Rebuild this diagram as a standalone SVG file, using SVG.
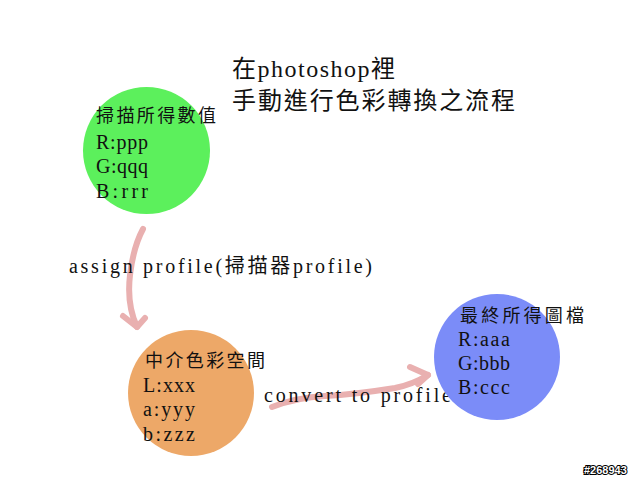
<svg xmlns="http://www.w3.org/2000/svg" width="640" height="480" viewBox="0 0 640 480">
<defs>
<style>
text{font-family:"Liberation Serif","Noto Sans CJK TC",serif;fill:#111;}
.t{font-size:24px;}
.n{font-size:20px;}
.k{font-size:18px;}
.c{stroke:#e9b0b0;stroke-width:6;fill:none;stroke-linecap:round;stroke-linejoin:round;}
</style>
</defs>
<rect width="640" height="480" fill="#ffffff"/>
<g id="title">
<text class="t" x="232" y="77" textLength="163">在photoshop裡</text>
<text class="t" x="232" y="109" textLength="283">手動進行色彩轉換之流程</text>
</g>
<g id="connectors">
<path class="c" d="M143,229 C136,242 132,258 130,275 C128,292 129,310 137,327"/>
<path class="c" d="M123,316 L137,327 L145,318"/>
<path class="c" d="M272,407 C290,400 305,397 325,396 C345,395 370,392 395,388 C410,385 420,380 428,375"/>
<path class="c" d="M410,367 L428,375 L418,384"/>
<text class="n" x="69" y="273" textLength="303">assign profile(掃描器profile)</text>
<text class="n" x="264" y="402" textLength="187">convert to profile</text>
</g>
<g id="scan">
<circle cx="146.5" cy="150.5" r="63.5" fill="#5cf05c"/>
<text class="k" x="96" y="122" textLength="120">掃描所得數值</text>
<text class="n" x="96" y="149" textLength="52">R:ppp</text>
<text class="n" x="96" y="173" textLength="52">G:qqq</text>
<text class="n" x="96" y="198" textLength="52">B:rrr</text>
</g>
<g id="lab">
<circle cx="191" cy="393" r="63" fill="#eda868"/>
<text class="k" x="145" y="367" textLength="120">中介色彩空間</text>
<text class="n" x="143" y="392" textLength="52">L:xxx</text>
<text class="n" x="143" y="416" textLength="52">a:yyy</text>
<text class="n" x="143" y="441" textLength="52">b:zzz</text>
</g>
<g id="final">
<circle cx="497" cy="357" r="63" fill="#7b8cf8"/>
<text class="k" x="460" y="322" textLength="124">最終所得圖檔</text>
<text class="n" x="458" y="346" textLength="52">R:aaa</text>
<text class="n" x="458" y="370" textLength="52">G:bbb</text>
<text class="n" x="458" y="394" textLength="52">B:ccc</text>
</g>
<g id="watermark">
<text x="584" y="474" style="font-family:'Liberation Sans',sans-serif;font-size:11px;font-weight:bold;fill:#fff;stroke:#000;stroke-width:2;paint-order:stroke">#268943</text>
</g>
</svg>
